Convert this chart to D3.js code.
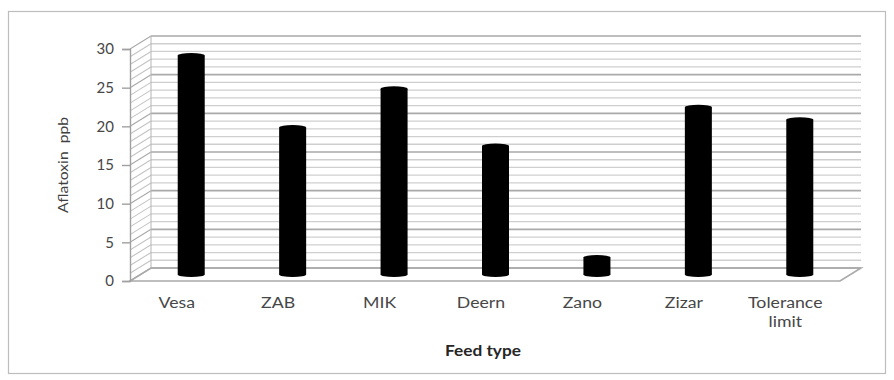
<!DOCTYPE html>
<html>
<head>
<meta charset="utf-8">
<script src="https://cdn.jsdelivr.net/npm/d3@7/dist/d3.min.js"></script>
<style>
  html, body { margin: 0; padding: 0; background: #fff; }
  svg { display: block; }
  text { font-family: Lato, "Open Sans", sans-serif; }
</style>
</head>
<body>
<svg id="chart" width="894" height="380"></svg>
<script>
// Aflatoxin level per feed type (ppb)
const categories = ["Vesa", "ZAB", "MIK", "Deern", "Zano", "Zizar", "Tolerance limit"];
const aflatoxin = [28.3, 19.0, 24.0, 16.6, 2.2, 21.6, 20.0];
const yTicks = [0, 5, 10, 15, 20, 25, 30];
const yTitle = "Aflatoxin  ppb";
const xTitle = "Feed type";

const svg = d3.select("#chart");

// Chart frame
svg.append("rect")
  .attr("x", 8.5).attr("y", 11.5)
  .attr("width", 877).attr("height", 362)
  .attr("fill", "#fff").attr("stroke", "#bdbdbd").attr("stroke-width", 1.2);

// Front plane scales plus a fixed depth offset for the 3D box
const x = d3.scaleBand().domain(categories).range([130, 840]);
const y = d3.scaleLinear().domain([0, 30]).range([281, 49]);
const depth = { dx: 21, dy: -13 };

const grid = svg.append("g");
const minor = d3.range(0, 31, 1);

// Back wall and side wall gridlines (every unit, darker every 5)
minor.forEach(v => {
  const major = v % 5 === 0;
  const col = major ? "#a9a9a9" : "#cfcfcf";
  const yb = y(v) + depth.dy;
  grid.append("line")
    .attr("x1", x.range()[0] + depth.dx).attr("x2", x.range()[1] + depth.dx)
    .attr("y1", yb).attr("y2", yb)
    .attr("stroke", col).attr("stroke-width", major ? 1.6 : 1.3);
  grid.append("line")
    .attr("x1", x.range()[0]).attr("y1", y(v))
    .attr("x2", x.range()[0] + depth.dx).attr("y2", yb)
    .attr("stroke", major ? "#a9a9a9" : "#c4c4c4").attr("stroke-width", 1.1);
});

// Back wall left edge
grid.append("line")
  .attr("x1", x.range()[0] + depth.dx).attr("x2", x.range()[0] + depth.dx)
  .attr("y1", y(30) + depth.dy).attr("y2", y(0) + depth.dy)
  .attr("stroke", "#b5b5b5").attr("stroke-width", 1);

// Floor
const x0 = x.range()[0], x1 = x.range()[1];
grid.append("path")
  .attr("d", `M${x0},${y(0)} L${x1},${y(0)} L${x1 + depth.dx},${y(0) + depth.dy} L${x0 + depth.dx},${y(0) + depth.dy} Z`)
  .attr("fill", "none").attr("stroke", "#a9a9a9").attr("stroke-width", 1.6);

// Value axis (front left edge) with ticks
const axis = svg.append("g").attr("transform", `translate(${x0},0)`)
  .call(d3.axisLeft(y).tickValues(yTicks).tickSize(8).tickPadding(8));
axis.select(".domain").attr("stroke", "#a0a0a0").attr("stroke-width", 1.4);
axis.selectAll(".tick line").attr("stroke", "#a0a0a0").attr("stroke-width", 1.4);
axis.selectAll(".tick text")
  .attr("fill", "#474747").style("font-size", "15px").style("font-weight", "normal")
  .style("font-family", "Lato, sans-serif");

// Cylinder bars, set at mid-depth
const barW = 27, ry = 2.6;
const bars = svg.append("g");
categories.forEach((c, i) => {
  const cx = x(c) + x.bandwidth() / 2 + depth.dx / 2;
  const yTop = y(aflatoxin[i]) + depth.dy / 2;
  const yBot = y(0) + depth.dy / 2;
  bars.append("rect")
    .attr("x", cx - barW / 2).attr("y", yTop)
    .attr("width", barW).attr("height", yBot - yTop)
    .attr("fill", "#000");
  bars.append("ellipse")
    .attr("cx", cx).attr("cy", yBot).attr("rx", barW / 2).attr("ry", ry)
    .attr("fill", "#000");
  bars.append("ellipse")
    .attr("cx", cx).attr("cy", yTop).attr("rx", barW / 2).attr("ry", ry)
    .attr("fill", "#000");
});

// Category labels (wrapped onto two lines where needed)
const labels = svg.append("g");
categories.forEach(c => {
  const cx = x(c) + x.bandwidth() / 2 - 4;
  const words = c.split(" ");
  words.forEach((w, j) => {
    labels.append("text")
      .attr("transform", `translate(${cx},${308 + j * 19}) scale(1.18,1)`)
      .attr("text-anchor", "middle")
      .attr("fill", "#474747")
      .style("font-size", "15px").style("font-weight", "normal")
      .text(w);
  });
});

// Axis titles
svg.append("text")
  .attr("transform", `translate(68,165) rotate(-90) scale(1.12,1)`)
  .attr("text-anchor", "middle")
  .attr("fill", "#404040")
  .style("font-size", "14px").style("font-weight", "normal")
  .style("white-space", "pre")
  .text(yTitle);

svg.append("text")
  .attr("transform", `translate(483,356) scale(1.15,1)`)
  .attr("text-anchor", "middle")
  .attr("fill", "#262626")
  .style("font-size", "15px").style("font-weight", "bold")
  .text(xTitle);
</script>
</body>
</html>
